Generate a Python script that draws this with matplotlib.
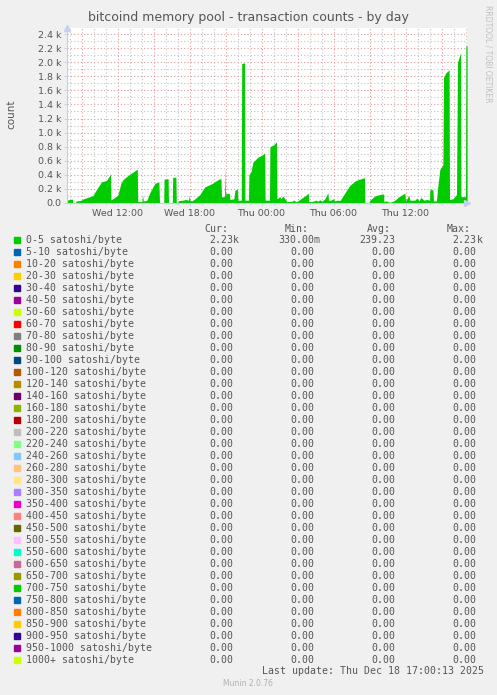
import numpy as np
import matplotlib
matplotlib.use("Agg")
import matplotlib.pyplot as plt
from matplotlib.patches import Rectangle

# Transactions 0-5 sat/byte
# minutes since Wed 00:00, count
t_min = [467, 482, 495, 497, 510, 512, 532, 542, 550, 572, 597, 617, 640, 665, 685,
         687, 702, 722, 737, 750, 782, 819, 821, 842, 845, 849, 866, 882, 907, 927,
         930, 951, 953, 973, 975, 994, 996, 1012, 1014, 1022, 1025, 1047, 1062, 1075,
         1079, 1082, 1092, 1107, 1132, 1147, 1157, 1192, 1222, 1237, 1240, 1255, 1257,
         1260, 1262, 1279, 1282, 1302, 1307, 1320, 1322, 1339, 1341, 1355, 1357, 1375,
         1377, 1387, 1397, 1422, 1442, 1456, 1458, 1480, 1482, 1502, 1515, 1517, 1532,
         1537, 1547, 1557, 1567, 1592, 1602, 1612, 1622, 1647, 1662, 1674, 1676, 1697,
         1712, 1722, 1732, 1742, 1757, 1772, 1775, 1787, 1797, 1807, 1822, 1832, 1847,
         1882, 1907, 1922, 1955, 1957, 1977, 1982, 2007, 2032, 2051, 2052, 2062, 2082,
         2097, 2107, 2127, 2157, 2160, 2167, 2177, 2182, 2207, 2217, 2227, 2237, 2252,
         2267, 2280, 2282, 2297, 2300, 2315, 2320, 2332, 2347, 2350, 2362, 2378, 2380,
         2397, 2415, 2420, 2435, 2437, 2460, 2462, 2468]
count = [40, 50, 55, 5, 5, 28, 35, 45, 60, 80, 105, 200, 300, 320, 410,
         43, 70, 115, 280, 340, 410, 480, 20, 20, 114, 30, 35, 150, 280, 300,
         5, 5, 340, 345, 5, 5, 365, 365, 10, 10, 35, 40, 50, 40,
         110, 40, 30, 60, 120, 190, 230, 275, 330, 350, 90, 90, 490,
         90, 140, 135, 50, 60, 180, 200, 40, 40, 1980, 1990, 40, 40,
         400, 440, 580, 650, 680, 710, 40, 40, 800, 830, 870, 60, 90,
         60, 100, 60, 20, 25, 40, 20, 30, 80, 110, 140, 20, 25,
         40, 25, 45, 25, 60, 145, 40, 40, 60, 30, 40, 35, 100,
         250, 310, 330, 360, 5, 5, 40, 100, 120, 130, 20, 30, 10,
         25, 40, 90, 140, 30, 60, 110, 40, 40, 70, 30, 80, 40,
         50, 40, 190, 190, 30, 30, 200, 480, 540, 1780, 1850, 1890, 50,
         60, 120, 2000, 2130, 90, 90, 2230, 2230]

ranges = ["0-5", "5-10", "10-20", "20-30", "30-40", "40-50", "50-60", "60-70",
          "70-80", "80-90", "90-100", "100-120", "120-140", "140-160", "160-180",
          "180-200", "200-220", "220-240", "240-260", "260-280", "280-300",
          "300-350", "350-400", "400-450", "450-500", "500-550", "550-600",
          "600-650", "650-700", "700-750", "750-800", "800-850", "850-900",
          "900-950", "950-1000", "1000+"]
colors = ["#00CC00", "#0066B3", "#FF8000", "#FFCC00", "#330099", "#990099", "#CCFF00",
          "#FF0000", "#808080", "#008F00", "#00487D", "#B35A00", "#B38F00", "#6B006B",
          "#8FB300", "#B30000", "#BEBEBE", "#80FF80", "#80C9FF", "#FFC080", "#FFE680",
          "#AA80FF", "#EE00CC", "#FF8080", "#666600", "#FFBFFF", "#00FFCC", "#CC6699",
          "#999900", "#00CC00", "#0066B3", "#FF8000", "#FFCC00", "#330099", "#990099",
          "#CCFF00"]
# cur, min, avg, max for the first series, everything else is 0
first_stats = [("2.23", "k"), ("330.00", "m"), ("239.23", ""), ("2.23", "k")]

W, H = 497, 695
fig = plt.figure(figsize=(W / 100, H / 100), dpi=100, facecolor="#F0F0F0")

def fx(x):
    return x / W

def fy(y):
    return 1 - y / H

txt = "#555555"

# plot area
ax = fig.add_axes([fx(67), fy(203), 400 / W, 175 / H])
ax.set_facecolor("white")
ax.set_xlim(467.5, 2467.5)
ax.set_ylim(0, 175 * 2400 / 169)

for m in range(480, 2468, 60):
    c = "#e09a9a" if m % 180 == 0 else "#c4c4c4"
    ax.axvline(m, color=c, lw=0.8, ls=(0, (1, 2)), zorder=1)
for v in range(100, 2500, 100):
    c = "#e09a9a" if v % 200 == 0 else "#c4c4c4"
    ax.axhline(v, color=c, lw=0.8, ls=(0, (1, 2)), zorder=1)

ax.fill_between(np.array(t_min), np.array(count), 0, color="#00CC00", lw=0, zorder=2)

for s in ["top", "right"]:
    ax.spines[s].set_visible(False)
for s in ["left", "bottom"]:
    ax.spines[s].set_color("#c8cce8")
    ax.spines[s].set_linewidth(0.8)
ax.plot(1.0, 0, ">", transform=ax.transAxes, clip_on=False, color="#c8d0f0", ms=4)
ax.plot(0, 1.0, "^", transform=ax.transAxes, clip_on=False, color="#c8d0f0", ms=4)

ax.set_xticks([720, 1080, 1440, 1800, 2160])
ax.set_xticklabels(["Wed 12:00", "Wed 18:00", "Thu 00:00", "Thu 06:00", "Thu 12:00"])
ax.set_xticks(range(480, 2468, 60), minor=True)
yt = list(range(0, 2401, 200))
ax.set_yticks(yt)
ax.set_yticklabels(["0.0" if v == 0 else f"{v / 1000:.1f} k" for v in yt])
ax.tick_params(labelsize=6.8, colors="#c8cce8", labelcolor=txt, length=2, width=0.6, pad=2)
ax.tick_params(which="minor", colors="#c8cce8", length=1.5, width=0.6)

fig.text(0.5, fy(18), "bitcoind memory pool - transaction counts - by day",
         ha="center", va="center", fontsize=9, color=txt)
fig.text(fx(11), fy(114), "count", rotation=90, ha="center", va="center",
         fontsize=7.5, color=txt)
fig.text(fx(488), fy(5), "RRDTOOL / TOBI OETIKER", rotation=270, ha="center",
         va="top", fontsize=5.5, color="#c0c0c0")

# legend
mono = "DejaVu Sans Mono"
fs = 7.15
heads = [("Cur:", 204), ("Min:", 285), ("Avg:", 366.7), ("Max:", 446.7)]
ends = [233, 314, 395.7, 476.5]
for h, x in heads:
    fig.text(fx(x), fy(228.5), h, family=mono, fontsize=fs, color=txt, va="center")
for i, (r, c) in enumerate(zip(ranges, colors)):
    y = 240 + 12 * i
    fig.patches.append(Rectangle((fx(14), fy(y + 3)), 6 / W, 6 / H, color=c,
                                 transform=fig.transFigure, figure=fig))
    fig.text(fx(26), fy(y), f"{r} satoshi/byte", family=mono, fontsize=fs,
             color=txt, va="center")
    stats = first_stats if i == 0 else [("0.00", "")] * 4
    for (num, unit), xe in zip(stats, ends):
        fig.text(fx(xe), fy(y), num, family=mono, fontsize=fs, color=txt,
                 va="center", ha="right")
        if unit:
            fig.text(fx(xe), fy(y), unit, family=mono, fontsize=fs, color=txt,
                     va="center", ha="left")

fig.text(fx(261.7), fy(671), "Last update: Thu Dec 18 17:00:13 2025", family=mono,
         fontsize=fs, color=txt, va="center")
fig.text(fx(223), fy(683.5), "Munin 2.0.76", fontsize=5.5, color="#b0b0b0", va="center")

fig.savefig("out.png", dpi=100, facecolor=fig.get_facecolor())
